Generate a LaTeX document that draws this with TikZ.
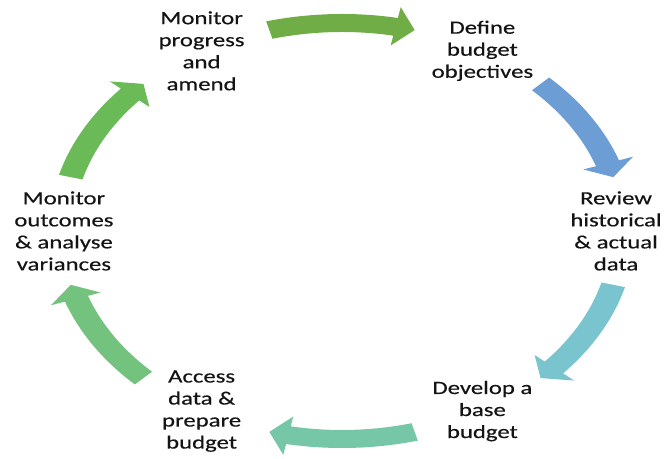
\documentclass[tikz,border=0pt]{standalone}
\usepackage{fontspec}
\setmainfont{Carlito}[FakeStretch=1.32, FakeBold=0.4]
\definecolor{arrowA}{RGB}{112,173,71}
\definecolor{arrowB}{RGB}{108,157,212}
\definecolor{arrowC}{RGB}{122,196,207}
\definecolor{arrowD}{RGB}{118,199,167}
\definecolor{arrowE}{RGB}{115,194,126}
\definecolor{arrowF}{RGB}{106,187,88}
\tikzset{stage/.style={align=center, text=black!92, inner sep=0pt, font=\fontsize{16}{18.8}\selectfont}}
% curved block arrow on the cycle, from tail angle #2 clockwise to tip angle #3
\def\cyclearrow[#1](#2:#3){%
  \pgfmathsetmacro\headbase{#3+4}%
  \fill[#1] (#2:217) arc[start angle=#2, end angle=\headbase, radius=217] -- (\headbase:228) -- (#3:208) -- (\headbase:189) -- (\headbase:199) arc[start angle=\headbase, end angle=#2, radius=199] -- cycle;}

\begin{document}
\begin{tikzpicture}[x=0.03cm, y=0.03cm]
		%%%%% START %%%%%
		\useasboundingbox (0, 0) rectangle (666, 459);
		
		\begin{scope}[shift={(342, 228)}, xscale=1.35]
		
		\node[stage] (progress) at (120:208) {Monitor\\progress\\and\\amend};
		\node[stage] (define) at (60:208) {Define\\budget\\objectives};
		\node[stage] (review) at (0:203) {Review\\historical\\\& actual\\data};
		\node[stage] (develop) at (-60:208) {Develop a\\base\\budget};
		\node[stage] (access) at (-120:208) {Access\\data \&\\prepare\\budget};
		\node[stage] (outcomes) at (180:206) {Monitor\\outcomes\\\& analyse\\variances};
		
		\cyclearrow[arrowA](105:75)
		\cyclearrow[arrowB](45:15)
		\cyclearrow[arrowC](-15:-45)
		\cyclearrow[arrowD](-75:-105)
		\cyclearrow[arrowE](-135:-165)
		\cyclearrow[arrowF](165:135)
		
		\end{scope}
		%%%%% END %%%%%
	\end{tikzpicture}
\end{document}
